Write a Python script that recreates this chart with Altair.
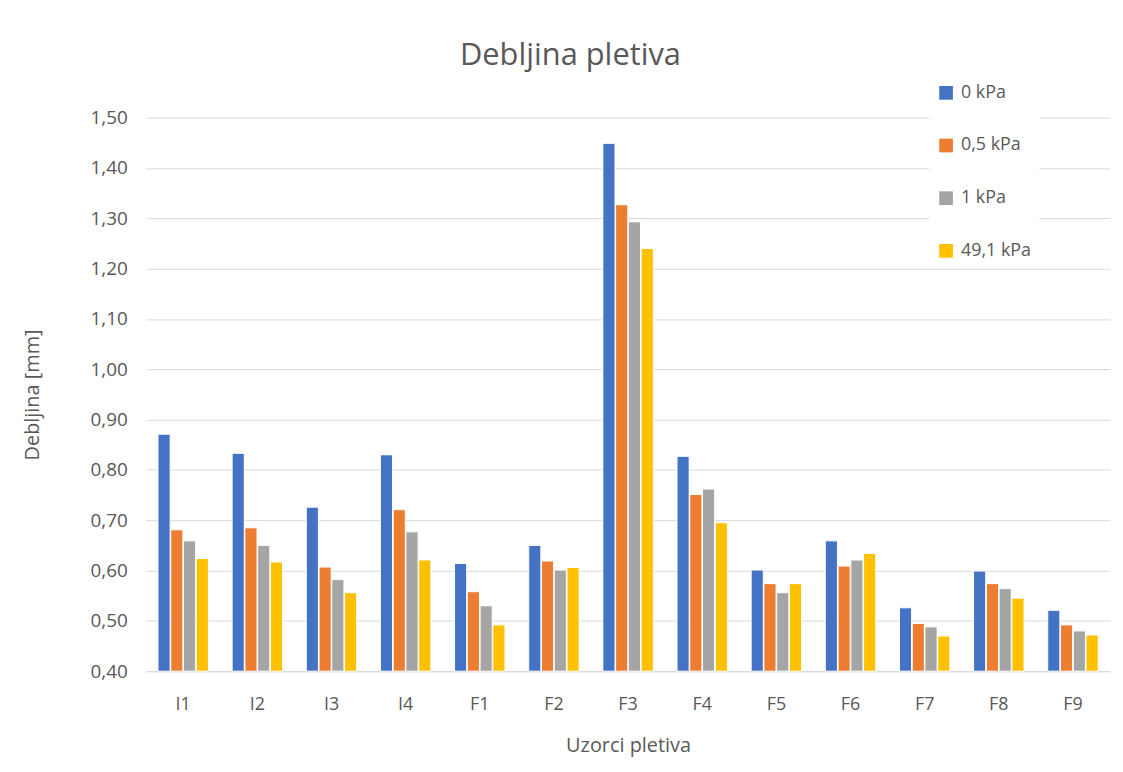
import altair as alt
import pandas as pd

samples = ["I1", "I2", "I3", "I4", "F1", "F2", "F3", "F4", "F5", "F6", "F7", "F8", "F9"]
series = ["0 kPa", "0,5 kPa", "1 kPa", "49,1 kPa"]
v0 = [0.871, 0.833, 0.726, 0.830, 0.614, 0.650, 1.449, 0.827, 0.601, 0.659, 0.526, 0.599, 0.521]
v05 = [0.681, 0.685, 0.607, 0.721, 0.558, 0.619, 1.327, 0.751, 0.574, 0.609, 0.495, 0.574, 0.492]
v1 = [0.659, 0.650, 0.582, 0.677, 0.530, 0.601, 1.293, 0.762, 0.556, 0.621, 0.488, 0.564, 0.480]
v49 = [0.624, 0.617, 0.556, 0.621, 0.492, 0.606, 1.240, 0.695, 0.574, 0.634, 0.470, 0.545, 0.472]
colors = ["#4472C4", "#ED7D31", "#A5A5A5", "#FFC000"]

rows = []
for s, vals in zip(series, [v0, v05, v1, v49]):
    for smp, v in zip(samples, vals):
        rows.append({"uzorak": smp, "serija": s, "vrijednost": v})
df = pd.DataFrame(rows)

FONT = "Open Sans"
GREY = "#595959"

chart = alt.Chart(df).mark_bar(stroke="white", strokeWidth=1).encode(
    x=alt.X("uzorak:N", sort=samples,
            scale=alt.Scale(paddingInner=0.32, paddingOuter=0.16),
            axis=alt.Axis(title="Uzorci pletiva", labelAngle=0, labelFontSize=18,
                          labelColor=GREY, titleFontSize=20, titleColor=GREY,
                          titleFontWeight="normal", labelPadding=25, titlePadding=22,
                          ticks=False, domainColor="#d9d9d9", labelFont=FONT, titleFont=FONT)),
    xOffset=alt.XOffset("serija:N", sort=series, scale=alt.Scale(paddingInner=0.05)),
    y=alt.Y("vrijednost:Q",
            scale=alt.Scale(domain=[0.4, 1.5], zero=False, nice=False),
            axis=alt.Axis(title="Debljina [mm]", values=[0.4 + i * 0.1 for i in range(12)],
                          labelExpr="replace(format(datum.value, '.2f'), '.', ',')",
                          labelFontSize=19, labelColor=GREY, titleFontSize=20,
                          titleColor=GREY, titleFontWeight="normal", labelPadding=19,
                          titlePadding=48, ticks=False, domain=False,
                          gridColor="#d9d9d9", labelFont=FONT, titleFont=FONT)),
    y2=alt.datum(0.4),
    color=alt.Color("serija:N", sort=series,
                    scale=alt.Scale(domain=series, range=colors),
                    legend=alt.Legend(title=None, orient="none", legendX=788, legendY=-42,
                                      symbolType="square", symbolSize=190,
                                      symbolStrokeWidth=0, labelFontSize=18,
                                      labelColor=GREY, labelFont=FONT, rowPadding=35,
                                      fillColor="white", padding=8, labelOffset=6)),
).properties(
    width=970,
    height=557,
    title=alt.TitleParams("Debljina pletiva", fontSize=31, color=GREY, font=FONT,
                          fontWeight="normal", anchor="middle", dx=-58, offset=4),
    padding={"left": 139, "top": 108, "right": 5, "bottom": 90},
    autosize=alt.AutoSizeParams(type="none"),
).configure_view(stroke=None)

chart.save("out.html", embed_options={"renderer": "svg", "actions": False})
